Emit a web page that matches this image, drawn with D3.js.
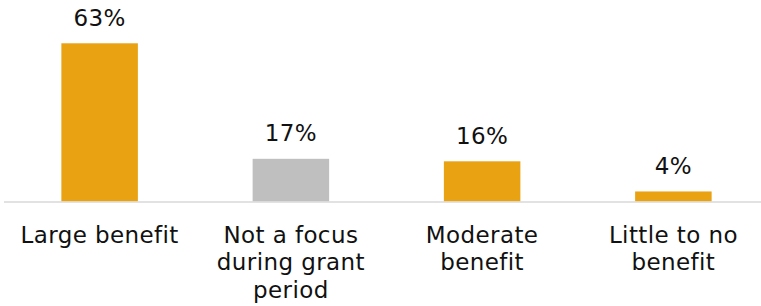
<!DOCTYPE html>
<html>
<head>
<meta charset="utf-8">
<script src="https://cdn.jsdelivr.net/npm/d3@7"></script>
<style>
  body { margin: 0; background: #fff; }
  svg text { font-family: "DejaVu Sans", Verdana, sans-serif; fill: #111; letter-spacing: 0.4px; }
</style>
</head>
<body>
<div id="chart"></div>
<script>
// data
var categories = ["Large benefit", "Not a focus during grant period", "Moderate benefit", "Little to no benefit"];
var labelLines = [["Large benefit"], ["Not a focus", "during grant", "period"], ["Moderate", "benefit"], ["Little to no", "benefit"]];
var values = [63, 17, 16, 4];
var barColors = ["#E9A212", "#BFBFBF", "#E9A212", "#E9A212"];

(function() {
  var width = 761, height = 306
  var baseline = 201.5

  var svg = d3.select("#chart")
    .append("svg")
    .attr("width", width)
    .attr("height", height)

  var xPositionScale = d3.scaleBand()
    .domain(categories)
    .range([4, 769])
    .paddingInner(0.6)
    .paddingOuter(0.3)

  var yPositionScale = d3.scaleLinear()
    .domain([0, 63])
    .range([baseline, 43.3])

  var data = categories.map(function(c, i) {
    return {cat: c, value: values[i], color: barColors[i], lines: labelLines[i]}
  })

  // bars
  svg.selectAll(".bar")
    .data(data)
    .enter().append("rect")
    .attr("class", "bar")
    .attr("x", function(d) { return xPositionScale(d.cat) })
    .attr("width", xPositionScale.bandwidth())
    .attr("y", function(d) { return yPositionScale(d.value) })
    .attr("height", function(d) { return baseline - yPositionScale(d.value) })
    .attr("fill", function(d) { return d.color })

  // value labels
  svg.selectAll(".value")
    .data(data)
    .enter().append("text")
    .attr("class", "value")
    .attr("x", function(d) { return xPositionScale(d.cat) + xPositionScale.bandwidth() / 2 })
    .attr("y", function(d) { return yPositionScale(d.value) - 17.5 })
    .attr("text-anchor", "middle")
    .style("font-size", "23px")
    .text(function(d) { return d.value + "%" })

  // axis line
  svg.append("line")
    .attr("x1", 4)
    .attr("x2", width)
    .attr("y1", baseline + 0.5)
    .attr("y2", baseline + 0.5)
    .attr("stroke", "#D9D9D9")
    .attr("stroke-width", 1.5)

  // category labels
  var xAxis = svg.selectAll(".cat")
    .data(data)
    .enter().append("text")
    .attr("class", "cat")
    .attr("text-anchor", "middle")
    .style("font-size", "23px")
    .attr("transform", function(d) {
      return "translate(" + (xPositionScale(d.cat) + xPositionScale.bandwidth() / 2) + ",242.7)"
    })

  xAxis.selectAll("tspan")
    .data(function(d) { return d.lines })
    .enter().append("tspan")
    .attr("x", 0)
    .attr("y", function(d, i) { return i * 27.8 })
    .text(function(d) { return d })
})();
</script>
</body>
</html>
